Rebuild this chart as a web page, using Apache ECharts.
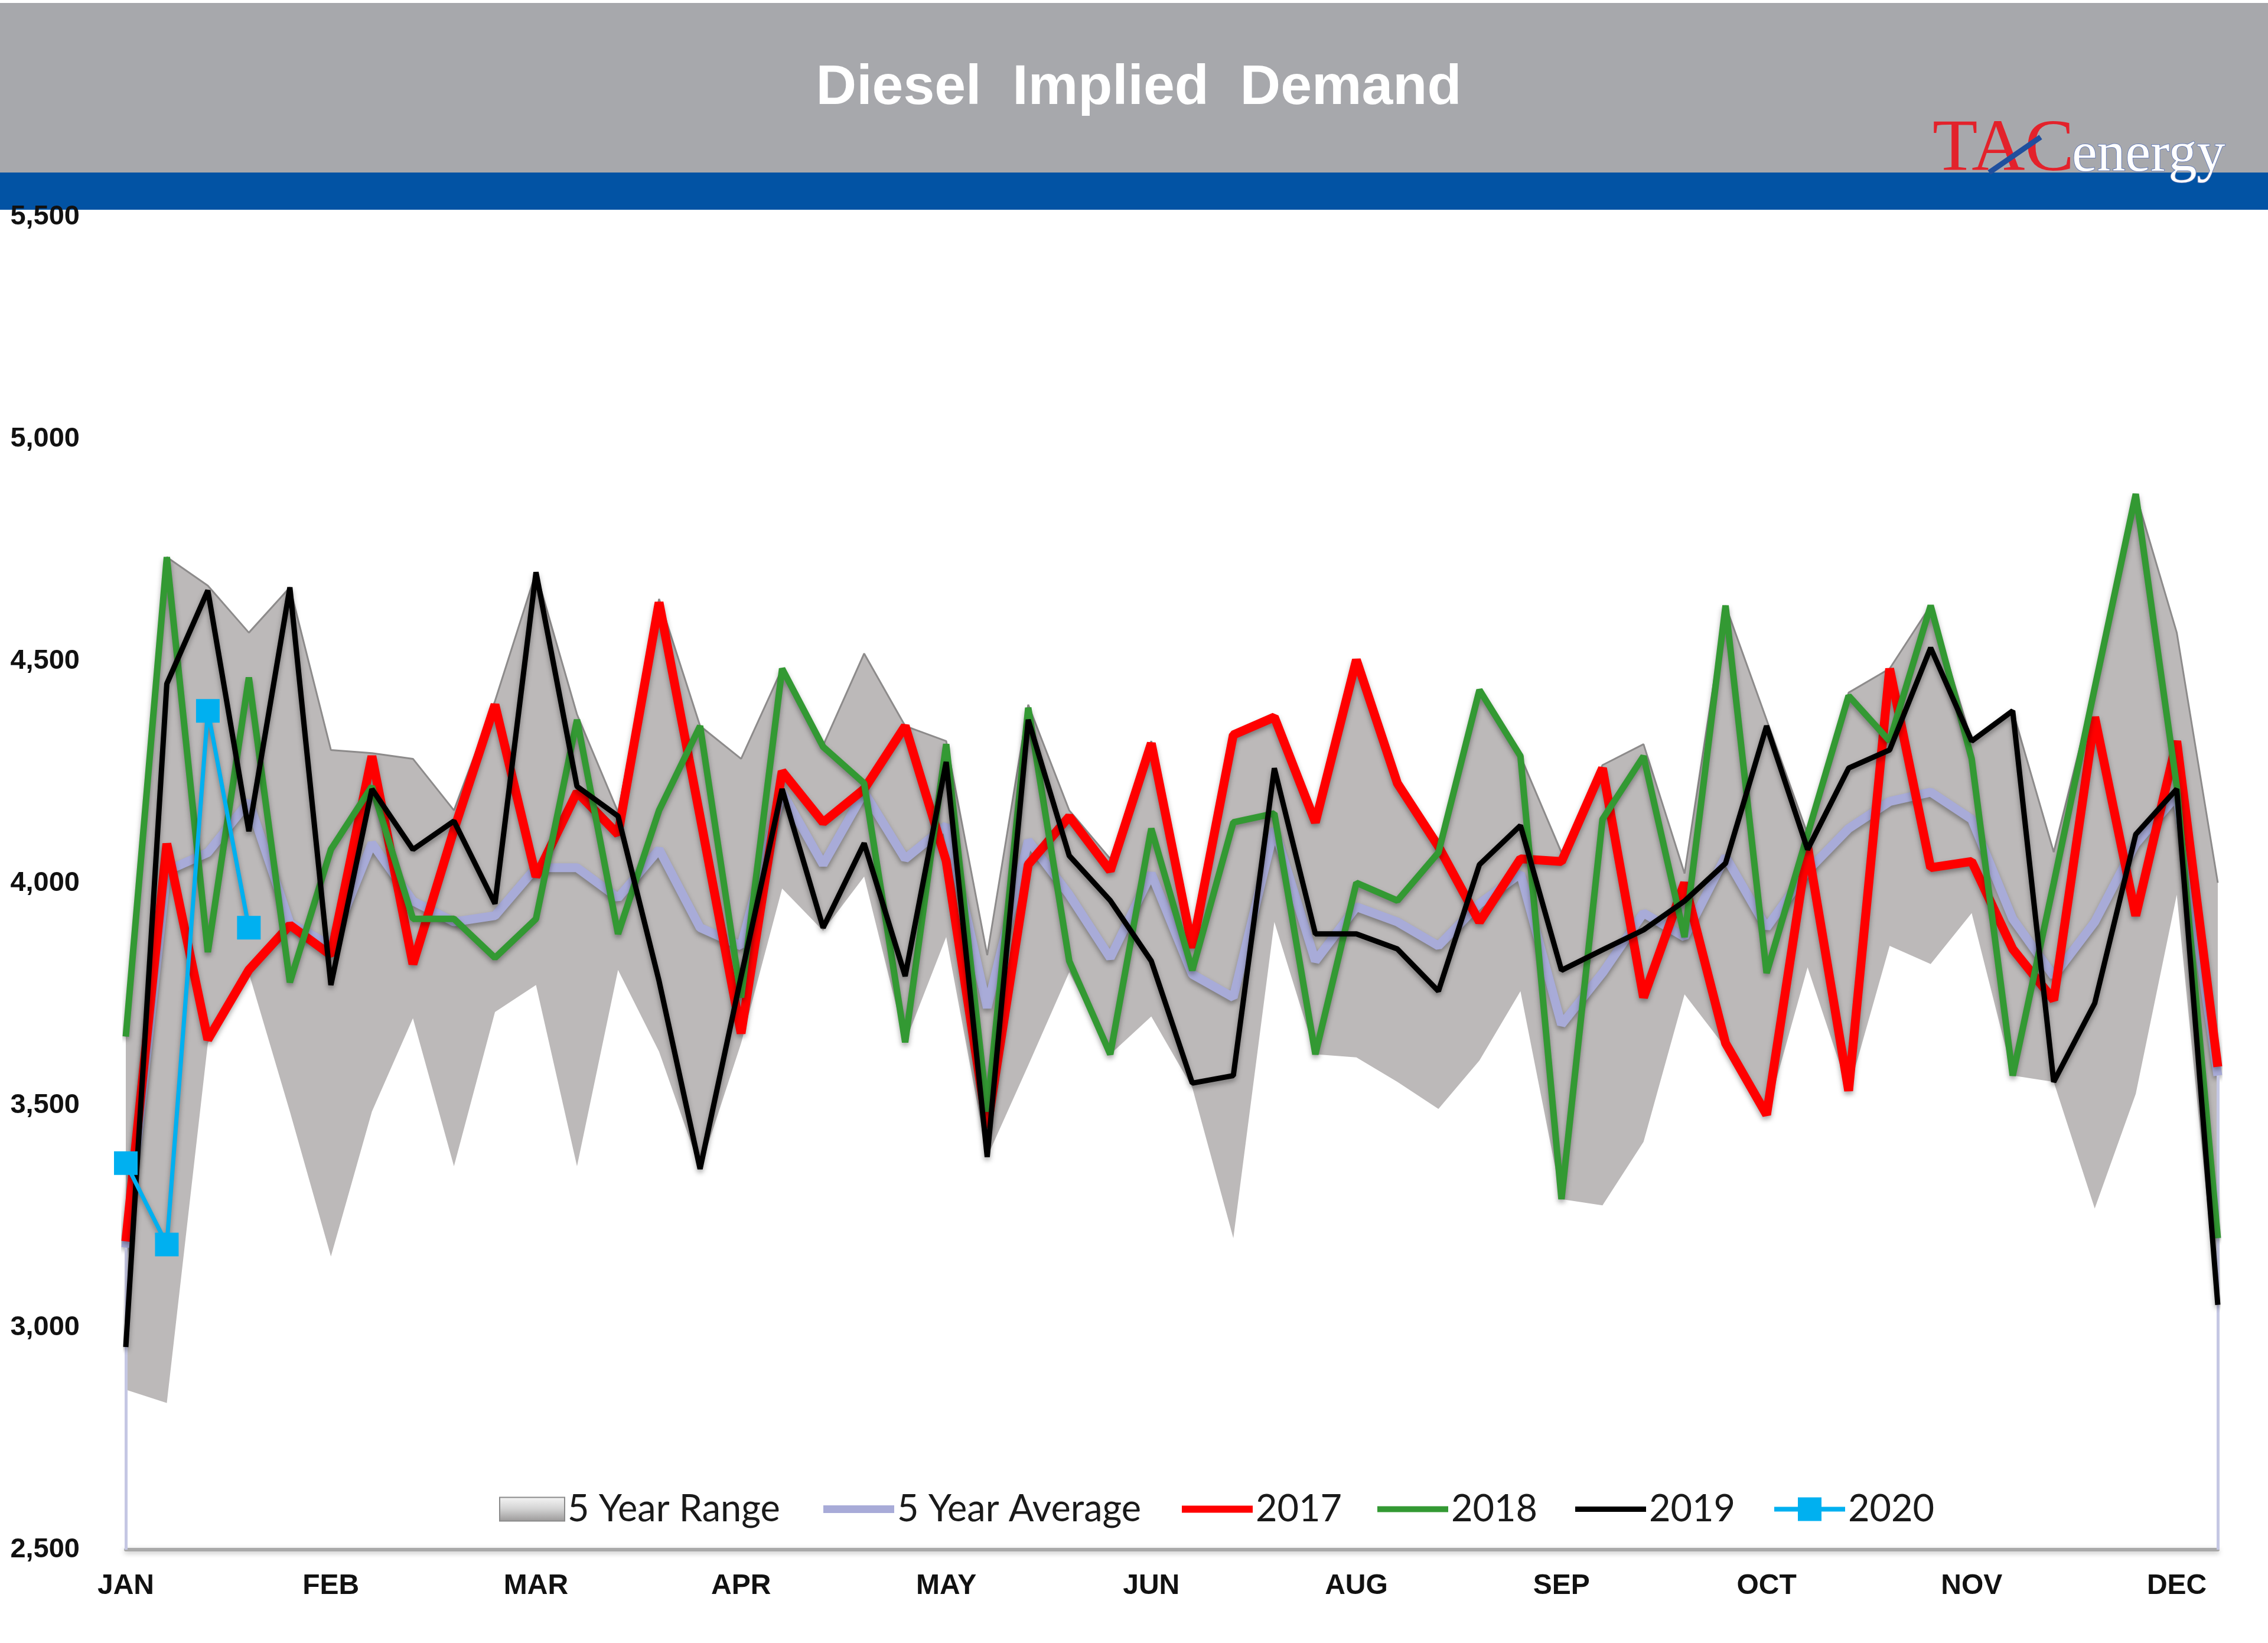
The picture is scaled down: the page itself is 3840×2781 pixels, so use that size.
<!DOCTYPE html>
<html><head><meta charset="utf-8">
<script src="https://cdn.jsdelivr.net/npm/echarts@6/dist/echarts.min.js"></script>
<style>html,body{margin:0;padding:0;background:#fff}#c{width:3840px;height:2781px}</style>
</head><body><div id="c"></div>
<script>
// ---- data ----
const monthLabels = ['JAN','FEB','MAR','APR','MAY','JUN','AUG','SEP','OCT','NOV','DEC'];
const weeks = Array.from({length:52},(_,i)=>'W'+(i+1));
const range5Min = [2860,2830,3640,3798,3486,3160,3486,3696,3363,3710,3771,3363,3805,3621,3357,3640,3988,3893,4015,3642,3879,3384,3590,3800,3615,3700,3540,3201,3913,3615,3608,3553,3492,3601,3757,3289,3275,3418,3750,3630,3479,3811,3533,3859,3818,3933,3567,3553,3268,3526,3974,3040];
const range5Max = [3655,4734,4670,4564,4666,4300,4293,4280,4164,4410,4700,4380,4160,4640,4354,4280,4483,4310,4517,4354,4320,3838,4402,4164,4055,4320,3866,4334,4374,4144,4503,4225,4083,4435,4286,4069,4266,4313,4022,4625,4368,4110,4429,4483,4625,4320,4388,4070,4440,4876,4564,4001];
const avg5 = [3180,4028,4069,4184,3910,3860,4090,3960,3913,3927,4035,4035,3967,4076,3900,3859,4205,4042,4205,4055,4130,3720,4096,3974,3832,4022,3795,3743,4123,3825,3947,3913,3859,3954,4022,3682,3798,3933,3879,4060,3900,4028,4123,4184,4205,4144,3920,3791,3913,4089,4198,3567];
const y2017 = [3194,4089,3648,3805,3906,3838,4286,3818,4120,4402,4015,4205,4110,4632,4150,3662,4252,4137,4212,4354,4050,3450,4042,4150,4028,4315,3855,4334,4374,4137,4503,4225,4083,3913,4055,4049,4259,3743,4001,3640,3479,4083,3533,4483,4035,4049,3852,3737,4374,3927,4320,3587];
const y2018 = [3655,4734,3845,4463,3777,4076,4218,3920,3920,3832,3920,4368,3886,4164,4354,3743,4483,4307,4225,3642,4313,3486,4395,3825,3615,4123,3804,4137,4157,3615,4001,3961,4069,4435,4286,3289,4144,4286,3879,4625,3798,4110,4422,4320,4625,4280,3567,4000,4440,4876,4218,3201];
const y2019 = [2956,4449,4659,4117,4666,3771,4212,4076,4140,3954,4700,4218,4151,3780,3357,3790,4212,3900,4090,3791,4273,3384,4368,4062,3961,3825,3550,3567,4259,3886,3886,3852,3757,4042,4130,3804,3850,3895,3960,4045,4354,4076,4259,4300,4530,4320,4388,3553,3730,4110,4212,3051];
const y2020 = [3370,3187,4388,3900];
const yMin = 2500, yMax = 5500, yStep = 500;

const rangeSpan = range5Max.map((v,i)=>v-range5Min[i]);
const shadow = {shadowColor:'rgba(0,0,0,0.35)', shadowBlur:8, shadowOffsetY:5};
const legendText = {fontFamily:'Lato, "Noto Sans", sans-serif', fontSize:63, color:'#1a1a1a'};
function lineLegend(name, left, h){
  return {left:left, top:2518, itemWidth:120, itemHeight:h, icon:'rect', textStyle:legendText, data:[name], selectedMode:false};
}

const chart = echarts.init(document.getElementById('c'), null, {renderer:'canvas'});
chart.setOption({
  animation:false,
  backgroundColor:'#ffffff',
  grid:{left:213, right:85, top:367, bottom:158, containLabel:false},
  graphic:[
    {type:'rect', shape:{x:0,y:5,width:3840,height:287}, style:{fill:'#a7a8ac'}, z:0},
    {type:'rect', shape:{x:0,y:292,width:3840,height:63}, style:{fill:'#0253a4'}, z:0},
    {type:'text', x:1928, y:150, style:{text:'Diesel  Implied  Demand', fill:'#ffffff', font:'bold 95px "Liberation Sans", Arial, sans-serif', textAlign:'center', textVerticalAlign:'middle', shadowColor:'rgba(0,0,0,0.6)', shadowBlur:5, shadowOffsetY:7}, z:10},
    {type:'text', x:3272, y:318, style:{text:'TAC', fill:'#e3222b', font:'125px "Liberation Serif", serif', textAlign:'left', textVerticalAlign:'bottom'}, z:10},
    {type:'line', shape:{x1:3368,y1:292,x2:3455,y2:232}, style:{stroke:'#1f4f9e', lineWidth:9}, z:11},
    {type:'text', x:3508, y:312, style:{text:'energy', fill:'#ffffff', font:'96px "Liberation Serif", serif', textAlign:'left', textVerticalAlign:'bottom', stroke:'#6a7fb8', lineWidth:2, shadowColor:'rgba(20,50,120,0.6)', shadowBlur:4, shadowOffsetY:3}, z:10}
  ],
  legend:[
    {left:840, top:2518, itemWidth:110, itemHeight:40, textStyle:legendText, selectedMode:false,
      data:[{name:'5 Year Range', icon:'rect', itemStyle:{color:new echarts.graphic.LinearGradient(0,0,0,1,[{offset:0,color:'#f6f6f6'},{offset:0.5,color:'#d2d2d2'},{offset:1,color:'#9a9898'}]), borderColor:'#8a8a8a', borderWidth:2}}]},
    lineLegend('5 Year Average', 1389, 13),
    lineLegend('2017', 1996, 12),
    lineLegend('2018', 2327, 10),
    lineLegend('2019', 2662, 9),
    {left:2995, top:2518, itemWidth:120, itemHeight:50, textStyle:legendText, data:['2020'], selectedMode:false,
      lineStyle:{width:8, color:'#00b0f0'}}
  ],
  xAxis:{
    type:'category', data:weeks, boundaryGap:false,
    axisLine:{show:true, lineStyle:{color:'#a9a9a9', width:6, shadowColor:'rgba(0,0,0,0.25)', shadowBlur:8, shadowOffsetY:3}},
    axisTick:{show:false},
    axisLabel:{interval:4, margin:38, color:'#111', fontFamily:'"Liberation Sans", Arial, sans-serif', fontWeight:'bold', fontSize:48,
      formatter:(v,idx)=>monthLabels[Math.round(idx/5)] || ''},
    splitLine:{show:false}
  },
  yAxis:{
    type:'value', min:yMin, max:yMax, interval:yStep,
    axisLine:{show:false}, axisTick:{show:false}, splitLine:{show:false},
    axisLabel:{margin:78, color:'#111', fontFamily:'"Liberation Sans", Arial, sans-serif', fontWeight:'bold', fontSize:47,
      formatter:v=>v.toLocaleString('en-US')}
  },
  series:[
    {name:'_rangeBase', type:'line', stack:'range', data:range5Min, symbol:'none', lineStyle:{opacity:0}, silent:true, z:1},
    {name:'5 Year Range', type:'line', stack:'range', data:rangeSpan, symbol:'none', silent:true, z:1,
      lineStyle:{color:'#8d8b8b', width:3},
      itemStyle:{color:'#bbb8b8'},
      areaStyle:{color:'#bcb9b9', opacity:1}},
    {name:'5 Year Average', type:'line', data:avg5, symbol:'none', z:3,
      lineStyle:Object.assign({color:'#a8abd8', width:15}, shadow), itemStyle:{color:'#a8abd8'},
      markLine:{silent:true, symbol:'none', label:{show:false}, lineStyle:{color:'#c5c7e3', width:5, type:'solid'},
        data:[[{coord:[weeks[0], yMin]},{coord:[weeks[0], avg5[0]]}],[{coord:[weeks[51], yMin]},{coord:[weeks[51], avg5[51]]}]]}},
    {name:'2017', type:'line', data:y2017, symbol:'none', z:4,
      lineStyle:Object.assign({color:'#ff0000', width:15}, shadow), itemStyle:{color:'#ff0000'}},
    {name:'2018', type:'line', data:y2018, symbol:'none', z:5,
      lineStyle:Object.assign({color:'#339933', width:11}, shadow), itemStyle:{color:'#339933'}},
    {name:'2019', type:'line', data:y2019, symbol:'none', z:6,
      lineStyle:Object.assign({color:'#000000', width:9}, shadow), itemStyle:{color:'#000000'}},
    {name:'2020', type:'line', data:y2020, symbol:'rect', symbolSize:40, showSymbol:true, z:7,
      lineStyle:Object.assign({color:'#00b0f0', width:7}, shadow), itemStyle:{color:'#00b0f0'}}
  ]
});
</script></body></html>
